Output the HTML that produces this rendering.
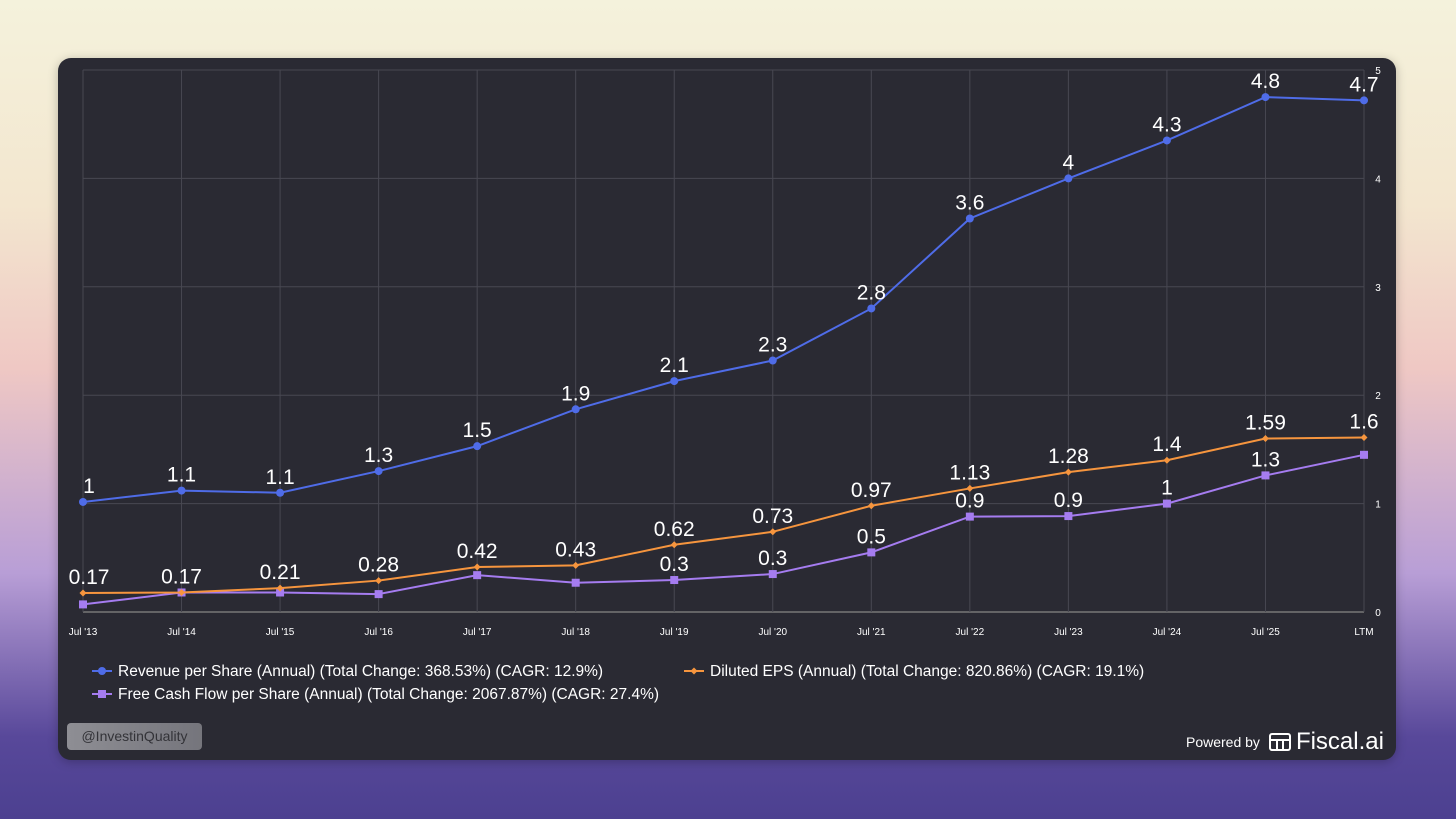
<!DOCTYPE html>
<html><head><meta charset="utf-8"><style>
html,body{margin:0;padding:0;width:1456px;height:819px;overflow:hidden;font-family:"Liberation Sans",sans-serif}
body{background:linear-gradient(180deg,#f4f2dc 0%,#f3e6cf 25%,#efc8c4 45%,#b89ed6 70%,#58489a 90%,#4c4090 100%)}
#card{position:absolute;left:58px;top:58px;width:1338px;height:702px;background:#2a2a33;border-radius:13px;box-shadow:0 2px 10px rgba(0,0,0,.25)}
</style></head><body>
<div id="card"></div>
<svg id="chart" width="1456" height="819" style="position:absolute;left:0;top:0"></svg>
<script>
const categories=["Jul '13","Jul '14","Jul '15","Jul '16","Jul '17","Jul '18","Jul '19","Jul '20","Jul '21","Jul '22","Jul '23","Jul '24","Jul '25","LTM"];
const revenue=[1.015,1.12,1.10,1.30,1.53,1.87,2.13,2.32,2.80,3.63,4.00,4.35,4.75,4.72];
const revenueLabels=["1","1.1","1.1","1.3","1.5","1.9","2.1","2.3","2.8","3.6","4","4.3","4.8","4.7"];
const eps=[0.175,0.18,0.22,0.29,0.415,0.43,0.62,0.74,0.98,1.14,1.29,1.40,1.60,1.61];
const epsLabels=["0.17","0.17","0.21","0.28","0.42","0.43","0.62","0.73","0.97","1.13","1.28","1.4","1.59","1.6"];
const fcf=[0.07,0.18,0.18,0.165,0.34,0.27,0.295,0.35,0.55,0.88,0.885,1.0,1.26,1.45];
const fcfLabels=["","","","","","","0.3","0.3","0.5","0.9","0.9","1","1.3",""];
const yTicks=[0,1,2,3,4,5];
const NS="http://www.w3.org/2000/svg";
const svg=document.getElementById('chart');
const x0=83,x1=1364,yb=612,yt=70,ymax=5;
const xs=i=>x0+(x1-x0)*i/(categories.length-1);
const ys=v=>yb-(yb-yt)*v/ymax;
function mk(t,a,p){const e=document.createElementNS(NS,t);for(const k in a)e.setAttribute(k,a[k]);(p||svg).appendChild(e);return e;}
const grid=mk('g',{});


yTicks.forEach(t=>{
  mk('line',{x1:x0,x2:x1,y1:ys(t),y2:ys(t),stroke:t===0?'#777':'#484852','stroke-width':t===0?1.5:1},grid);
  const tx=mk('text',{x:1378,y:ys(t)+4,fill:'#fff','font-size':10,'text-anchor':'middle'});
  
  
  tx.textContent=t;
});
categories.forEach((c,i)=>{
  mk('line',{x1:xs(i),x2:xs(i),y1:yt,y2:yb,stroke:'#484852','stroke-width':1},grid);
  const tx=mk('text',{x:xs(i),y:635,fill:'#fff','font-size':10,'text-anchor':'middle'});
  
  
  tx.textContent=c;
});
function series(vals,labels,color,shape,name){
  const g=mk('g',{});
  
  
  mk('polyline',{points:vals.map((v,i)=>xs(i)+','+ys(v)).join(' '),fill:'none',stroke:color,'stroke-width':2},g);
  vals.forEach((v,i)=>{
    let m;
    if(shape==='circle')m=mk('circle',{cx:xs(i),cy:ys(v),r:4,fill:color},g);
    else if(shape==='square')m=mk('rect',{x:xs(i)-4,y:ys(v)-4,width:8,height:8,fill:color},g);
    else m=mk('path',{d:`M${xs(i)} ${ys(v)-3.5}L${xs(i)+3.5} ${ys(v)}L${xs(i)} ${ys(v)+3.5}L${xs(i)-3.5} ${ys(v)}Z`,fill:color},g);
    
    
    if(labels[i]){
      const t=mk('text',{x:xs(i)+(i===0?6:0),y:ys(v)-9,fill:'#fff','font-size':21,'text-anchor':'middle'},g);
      
      
      t.textContent=labels[i];
    }
  });
}
series(fcf,fcfLabels,'#a57cf0','square','fcf-series');
series(eps,epsLabels,'#f6953e','diamond','eps-series');
series(revenue,revenueLabels,'#4f6ce8','circle','revenue-series');
function legend(x,y,color,shape,text){
  const g=mk('g',{});
  
  
  mk('line',{x1:x,x2:x+20,y1:y,y2:y,stroke:color,'stroke-width':2},g);
  if(shape==='circle')mk('circle',{cx:x+10,cy:y,r:4,fill:color},g);
  else if(shape==='square')mk('rect',{x:x+6,y:y-4,width:8,height:8,fill:color},g);
  else mk('path',{d:`M${x+10} ${y-3.5}L${x+13.5} ${y}L${x+10} ${y+3.5}L${x+6.5} ${y}Z`,fill:color},g);
  const t=mk('text',{x:x+26,y:y+5,fill:'#fff','font-size':15.5},g);
  t.textContent=text;
}
legend(92,671,'#4f6ce8','circle','Revenue per Share (Annual) (Total Change: 368.53%) (CAGR: 12.9%)');
legend(684,671,'#f6953e','diamond','Diluted EPS (Annual) (Total Change: 820.86%) (CAGR: 19.1%)');
legend(92,694,'#a57cf0','square','Free Cash Flow per Share (Annual) (Total Change: 2067.87%) (CAGR: 27.4%)');
</script>
<div style="position:absolute;left:67px;top:723px;width:135px;height:27px;border-radius:4px;background:linear-gradient(90deg,#8e8e94,#75757c);color:#333338;font-size:14px;line-height:27px;text-align:center">@InvestinQuality</div>
<div style="position:absolute;left:1186px;top:728px;color:#fff;font-size:14px;line-height:28px;display:flex;align-items:center">Powered by
<svg width="24" height="20" style="margin:0 4px 0 8px"><rect x="2" y="2" width="20" height="16" rx="2" fill="none" stroke="#fff" stroke-width="2"/><line x1="3" y1="8" x2="21" y2="8" stroke="#fff" stroke-width="2"/><line x1="9" y1="8" x2="9" y2="17" stroke="#fff" stroke-width="2"/><line x1="15" y1="8" x2="15" y2="17" stroke="#fff" stroke-width="2"/></svg>
<span style="font-size:24px">Fiscal.ai</span></div>
</body></html>
